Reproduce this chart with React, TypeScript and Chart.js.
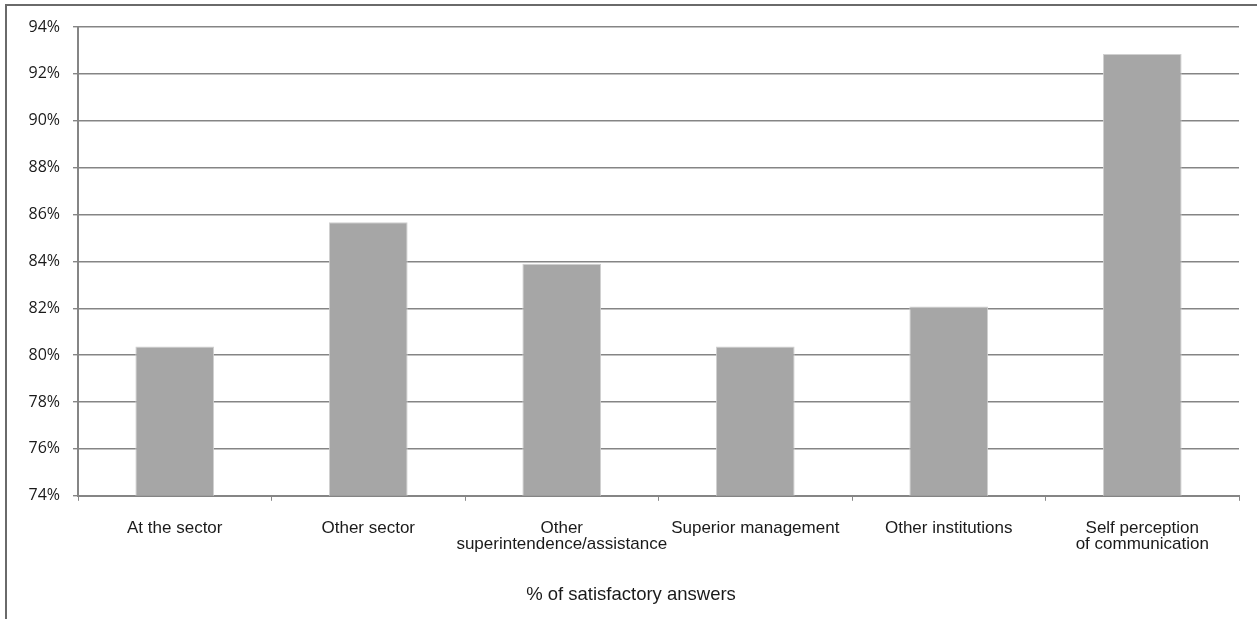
import React, { useEffect, useRef } from "react";
import { Chart, registerables } from "chart.js";

Chart.register(...registerables);

const categories: (string | string[])[] = [
  "At the sector",
  "Other sector",
  ["Other", "superintendence/assistance"],
  "Superior management",
  "Other institutions",
  ["Self perception", "of communication"],
];
const satisfactory: number[] = [80.37, 85.67, 83.9, 80.37, 82.08, 92.85];
const yMin = 74;
const yMax = 94;
const yStep = 2;
const axisTitle = "% of satisfactory answers";

export default function App() {
  const ref = useRef<HTMLCanvasElement | null>(null);

  useEffect(() => {
    if (!ref.current) return;
    const chart = new Chart(ref.current, {
      type: "bar",
      data: {
        labels: categories,
        datasets: [
          {
            data: satisfactory,
            backgroundColor: "#a6a6a6",
            borderColor: "#d0d0d0",
            borderWidth: 1,
            barPercentage: 0.407,
            categoryPercentage: 1,
          },
        ],
      },
      options: {
        animation: false,
        responsive: false,
        maintainAspectRatio: false,
        layout: { padding: { top: 27, left: 5, right: 0, bottom: 0 } },
        plugins: {
          legend: { display: false },
          tooltip: { enabled: false },
          title: {
            display: true,
            position: "bottom",
            text: axisTitle,
            color: "#1a1a1a",
            font: { family: "'Liberation Sans', Arial, sans-serif", size: 18.5, weight: "normal" },
            padding: { top: 0, bottom: 13 },
          },
        },
        scales: {
          x: {
            grid: {
              offset: true,
              drawOnChartArea: false,
              drawTicks: true,
              tickLength: 5,
              color: "#888888",
            },
            border: { color: "#858585", width: 2 },
            ticks: {
              color: "#1a1a1a",
              padding: 20,
              maxRotation: 0,
              autoSkip: false,
              font: { family: "'Liberation Sans', Arial, sans-serif", size: 17, lineHeight: 0.93 },
            },
            afterFit: (s: any) => {
              s.height = 88;
            },
          },
          y: {
            min: yMin,
            max: yMax,
            grid: { color: "#858585", lineWidth: 1.4, tickLength: 5, drawTicks: true },
            border: { color: "#858585", width: 2 },
            ticks: {
              stepSize: yStep,
              color: "#1a1a1a",
              padding: 13,
              font: { family: "'Open Sans', sans-serif", size: 16 },
              callback: (v: any) => `${v}%`,
            },
            afterFit: (s: any) => {
              s.width = 73;
            },
          },
          yRight: {
            position: "right",
            display: true,
            grid: { display: false },
            border: { display: false },
            ticks: { display: false },
            afterFit: (s: any) => {
              s.width = 18;
            },
          },
        },
      },
    });
    return () => chart.destroy();
  }, []);

  return (
    <div style={{ position: "absolute", left: 0, top: 0, width: 1257, height: 619, background: "#fff" }}>
      <div
        style={{
          position: "absolute",
          left: 5,
          top: 4,
          width: 1260,
          height: 620,
          borderTop: "2px solid #6a6a6a",
          borderLeft: "2px solid #6a6a6a",
          boxSizing: "border-box",
        }}
      />
      <canvas ref={ref} width={1257} height={619} style={{ position: "absolute", left: 0, top: 0 }} />
    </div>
  );
}
